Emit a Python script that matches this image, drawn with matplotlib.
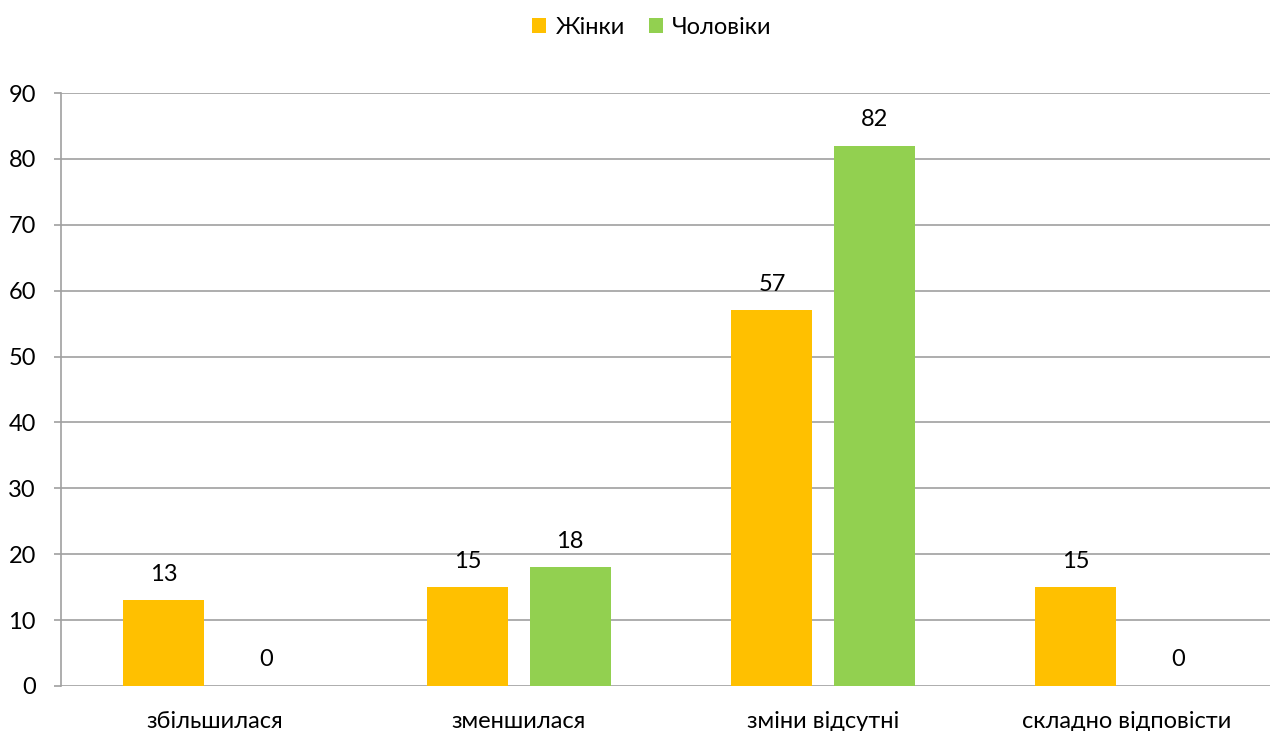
import matplotlib
matplotlib.use("Agg")
import matplotlib.pyplot as plt
import numpy as np

categories = ["збільшилася", "зменшилася", "зміни відсутні", "складно відповісти"]
women = [13, 15, 57, 15]
men = [0, 18, 82, 0]
series_names = ["Жінки", "Чоловіки"]
y_ticks = [0, 10, 20, 30, 40, 50, 60, 70, 80, 90]

plt.rcParams['font.family'] = ['Lato', 'DejaVu Sans']

W, H = 1270, 731
fig = plt.figure(figsize=(W / 100, H / 100), dpi=100)
ax = fig.add_axes([61 / W, 45 / H, (W - 61) / W, (686 - 93) / H])

grid_col = "#A0A0A0"
fs = 17
x = np.arange(len(categories))
bw = 0.266
off = 0.168
b1 = ax.bar(x - off, women, bw, color="#FFC000", label=series_names[0], zorder=3)
b2 = ax.bar(x + off, men, bw, color="#92D050", label=series_names[1], zorder=3)

for bars, vals in ((b1, women), (b2, men)):
    for rect, v in zip(bars, vals):
        ax.annotate(str(v), (rect.get_x() + rect.get_width() / 2, v),
                    xytext=(0, 26), textcoords="offset pixels",
                    ha="center", va="center", fontsize=fs, color="#000000")

ax.set_xlim((61 - 215) / 304, (W - 215) / 304)
ax.set_ylim(0, 90)
ax.set_yticks(y_ticks)
ax.set_xticks(x)
ax.set_xticklabels(categories, fontsize=fs)
ax.tick_params(axis="x", length=0, pad=18)
ax.tick_params(axis="y", length=5, width=1.2, color=grid_col, labelsize=fs, pad=13)
ax.yaxis.grid(True, color=grid_col, linewidth=1.2, zorder=0)
for s in ("top", "right", "bottom"):
    ax.spines[s].set_visible(False)
ax.spines["left"].set_color(grid_col)
ax.spines["left"].set_linewidth(1.2)

fig.legend(loc="center", bbox_to_anchor=(652 / W, 1 - 27 / H), ncol=2, frameon=False,
           fontsize=fs, handlelength=0.6, handleheight=0.6, handletextpad=0.4,
           columnspacing=1.0)

fig.savefig("out.png", dpi=100)
